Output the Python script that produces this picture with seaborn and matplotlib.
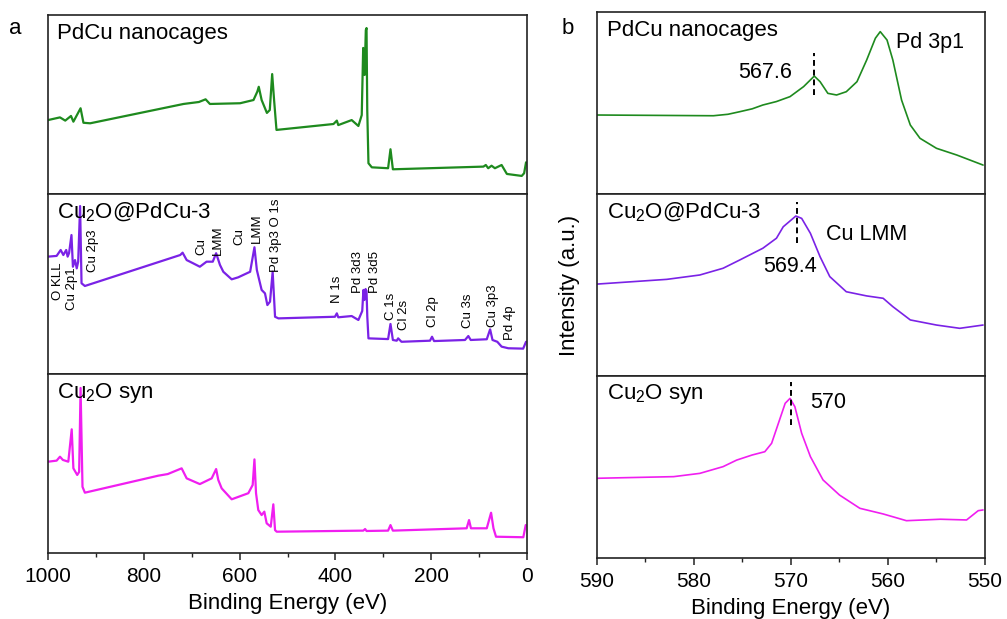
import matplotlib
matplotlib.use("Agg")
import matplotlib.pyplot as plt
import seaborn as sns
from matplotlib.ticker import MultipleLocator

# ---------------- data ----------------
# Panel a: survey spectra, binding energy (eV) and intensity (a.u., 0-100 per strip)
survey_pdcu_E = [1000, 975, 964, 952, 947, 932, 926, 912, 717, 685, 671, 662, 599, 571, 563, 560, 554,
                 543, 537, 532, 528, 523, 404, 397, 394, 366, 352, 345, 342, 339, 336.5, 335, 333.5,
                 331, 324, 290, 285, 280, 91, 86, 81, 74, 67, 53, 42, 11, 6, 2]
survey_pdcu_I = [41.3, 42.8, 41.0, 43.6, 40.4, 47.9, 39.8, 39.5, 50.3, 51.4, 52.9, 50.3, 50.7, 52.5, 57.2,
                 59.9, 52.5, 45.3, 46.9, 67.0, 52.5, 35.8, 39.1, 41.0, 38.5, 41.3, 38.0, 44.1, 81.6,
                 66.5, 91.6, 92.7, 46.9, 17.2, 14.9, 14.4, 25.0, 13.8, 15.3, 16.2, 14.4, 15.8, 14.4,
                 16.2, 11.2, 10.1, 11.6, 17.7]

survey_cu2o_pdcu_E = [1000, 982, 973.5, 968, 962, 959, 956, 951, 948, 943.6, 940, 937, 933, 930, 923,
                      724, 719, 710.5, 697, 683, 669, 656, 649, 641, 634, 616.5, 603, 578, 569, 564,
                      559, 554, 547, 542, 536.5, 531, 526, 519, 401, 397, 394, 366, 352, 344, 341.5,
                      339.5, 337, 335, 333.4, 331, 290, 285, 280, 272, 269, 262, 202.5, 198.3, 194,
                      129.4, 122.5, 117.5, 84, 77, 72, 62, 53, 39, 8, 2]
survey_cu2o_pdcu_I = [65.2, 65.6, 68.9, 66.1, 68.9, 65.2, 67.2, 77.2, 59.6, 63.3, 58.7, 62.4, 93.3, 50.4,
                      48.9, 66.1, 67.4, 63.3, 61.5, 59.6, 62.4, 62.4, 67.1, 60.6, 56.8, 52.6, 53.7,
                      56.8, 70.4, 57.8, 52.2, 46.7, 44.8, 38.3, 40.2, 56.8, 31.8, 30.9, 31.8, 33.7,
                      31.5, 32.2, 30.0, 35.0, 46.7, 41.1, 47.2, 46.1, 31.8, 19.8, 19.4, 27.8, 18.9,
                      18.5, 19.8, 17.9, 18.5, 20.7, 18.3, 18.9, 21.1, 18.9, 19.3, 24.8, 18.9, 17.9,
                      15.2, 14.3, 14.1, 17.9]

survey_cu2o_E = [1000, 982, 975, 969, 957.6, 950.5, 947, 939, 935, 932, 928, 923, 769.7, 750, 721,
                 710.5, 683, 658.3, 649, 644.5, 637.4, 616.5, 581.8, 572.7, 569, 565.7, 561, 554,
                 548.4, 543.5, 535, 529.6, 526, 522.5, 341.7, 338, 335, 290, 285, 280, 126, 121, 117,
                 84, 75, 70, 64.7, 7.7, 2.7]
survey_cu2o_I = [51.0, 51.6, 53.8, 52.0, 51.0, 69.1, 47.3, 43.6, 45.3, 92.2, 37.0, 33.7, 43.2, 44.1,
                 47.3, 41.7, 38.5, 41.7, 46.9, 40.8, 36.1, 30.0, 33.4, 38.0, 52.3, 33.4, 24.0, 21.2,
                 23.1, 16.6, 14.7, 27.2, 12.8, 11.9, 12.5, 13.4, 12.3, 12.5, 15.6, 12.5, 13.8, 18.4,
                 13.8, 13.8, 22.5, 13.8, 9.1, 8.8, 15.6]

# Peak labels on the Cu2O@PdCu-3 survey: text, energy, bottom of label in intensity units
peak_labels = ["O KLL", "Cu 2p1", "Cu 2p3", "Cu", "LMM", "Cu", "LMM", "Pd 3p3 O 1s", "N 1s",
               "Pd 3d3", "Pd 3d5", "C 1s", "Cl 2s", "Cl 2p", "Cu 3s", "Cu 3p3", "Pd 4p"]
peak_label_E = [978.5, 950.5, 905.4, 679, 644.5, 600.6, 564.3, 524, 397.3, 352.2, 317.3, 283.5,
                256.0, 195.6, 122.5, 70.4, 35.5]
peak_label_I = [41.1, 35.6, 56.7, 66.1, 66.1, 71.7, 72.8, 56.7, 39.4, 45.0, 45.0, 30.0, 24.4, 26.1,
                25.6, 26.1, 18.9]

# Panel b: Cu LMM / Pd 3p1 region
lmm_pdcu_E = [590, 584, 578, 576.5, 575.3, 574, 572.9, 571.5, 570.1, 568.7, 567.6, 567, 566.2, 565.3,
              564.3, 563.2, 562.2, 561.3, 560.8, 560.1, 559.5, 558.6, 557.7, 556.7, 555, 552.9, 550.2]
lmm_pdcu_I = [43.4, 43.2, 43.0, 43.8, 45.2, 46.8, 48.9, 50.8, 53.5, 59.0, 64.8, 61.7, 55.3, 54.4,
              56.2, 61.7, 73.6, 85.6, 89.2, 84.6, 73.6, 51.6, 37.9, 30.6, 25.1, 21.4, 15.9]

lmm_cu2o_pdcu_E = [590, 582.8, 579.4, 577, 575.3, 572.9, 571.5, 570.8, 569.5, 568.9, 568, 567, 566,
                   564.3, 562.2, 560.5, 559.5, 557.7, 555, 552.6, 550.2]
lmm_cu2o_pdcu_I = [50.5, 53.1, 55.5, 59.2, 63.7, 70.2, 75.7, 82.0, 87.9, 86.6, 78.4, 65.5, 54.6,
                   46.3, 44.0, 42.7, 38.1, 30.8, 28.0, 26.2, 28.0]

lmm_cu2o_E = [590, 582.1, 579.4, 577, 575.6, 574, 572.7, 572, 571.3, 570.6, 570.1, 569.6, 568.9,
              568, 566.7, 565, 562.9, 560.5, 558.1, 554.6, 551.9, 550.7, 550.2]
lmm_cu2o_I = [43.8, 44.7, 46.5, 50.2, 53.8, 56.6, 58.4, 63.0, 74.0, 85.0, 87.7, 83.1, 68.5, 55.7,
              42.9, 34.6, 27.3, 24.2, 20.5, 21.3, 20.9, 26.0, 26.4]

sample_names = ["PdCu nanocages", "Cu$_2$O@PdCu-3", "Cu$_2$O syn"]
colors = ["#1e8a1e", "#7a22e6", "#f01ef0"]
peak_marks = [567.6, 569.4, 570]
peak_mark_text = ["567.6", "569.4", "570"]

# ---------------- style ----------------
sns.set_style("ticks")
plt.rcParams["font.family"] = ["Liberation Sans", "DejaVu Sans"]
plt.rcParams["mathtext.fontset"] = "custom"
plt.rcParams["mathtext.rm"] = "Liberation Sans"
plt.rcParams["mathtext.it"] = "Liberation Sans"
plt.rcParams["mathtext.default"] = "regular"
plt.rcParams["text.color"] = "black"
plt.rcParams["axes.labelcolor"] = "black"
plt.rcParams["xtick.color"] = "black"
plt.rcParams["ytick.color"] = "black"

fig = plt.figure(figsize=(10.07, 6.19), dpi=100)
W, H = 1007, 619

def box(x0, x1, y_top, y_bot):
    return [x0 / W, 1 - y_bot / H, (x1 - x0) / W, (y_bot - y_top) / H]

left_rows = [(15, 194), (194, 374), (374, 553)]
right_rows = [(12, 194), (194, 376), (376, 558)]
axL = [fig.add_axes(box(48, 527, t, b)) for t, b in left_rows]
axR = [fig.add_axes(box(597, 985, t, b)) for t, b in right_rows]

survey = [(survey_pdcu_E, survey_pdcu_I), (survey_cu2o_pdcu_E, survey_cu2o_pdcu_I),
          (survey_cu2o_E, survey_cu2o_I)]
lmm = [(lmm_pdcu_E, lmm_pdcu_I), (lmm_cu2o_pdcu_E, lmm_cu2o_pdcu_I), (lmm_cu2o_E, lmm_cu2o_I)]

spine_c = "#222222"
for ax in axL + axR:
    for s in ax.spines.values():
        s.set_color(spine_c)
        s.set_linewidth(1.2)
    ax.set_ylim(0, 100)
    ax.set_yticks([])
    ax.set_ylabel("")

for i in range(3):
    E, I = survey[i]
    sns.lineplot(x=E, y=I, ax=axL[i], color=colors[i], lw=1.6, estimator=None, sort=False)
    axL[i].set_xlim(1000, 0)
    axL[i].text(0.019, 0.895, sample_names[i], transform=axL[i].transAxes, fontsize=16,
                ha="left", va="center")
    E, I = lmm[i]
    sns.lineplot(x=E, y=I, ax=axR[i], color=colors[i], lw=1.2, estimator=None, sort=False)
    axR[i].set_xlim(590, 550)
    axR[i].text(0.026, 0.9, sample_names[i], transform=axR[i].transAxes, fontsize=16,
                ha="left", va="center")

for t, e, y in zip(peak_labels, peak_label_E, peak_label_I):
    axL[1].text(e, y, t, rotation=90, ha="center", va="bottom", fontsize=9.5)

# dashed peak markers and labels in b
dash_ranges = [(54.4, 77.5), (72.9, 95.8), (73.1, 96.9)]
for i in range(3):
    lo, hi = dash_ranges[i]
    axR[i].vlines(peak_marks[i], lo, hi, colors="black", linestyles=(0, (3, 2)), lw=1.4)
axR[0].text(572.7, 66.5, peak_mark_text[0], ha="center", va="center", fontsize=15.5)
axR[0].text(555.7, 83.5, "Pd 3p1", ha="center", va="center", fontsize=15.5)
axR[1].text(570.1, 59.9, peak_mark_text[1], ha="center", va="center", fontsize=15.5)
axR[1].text(562.2, 77.6, "Cu LMM", ha="center", va="center", fontsize=15.5)
axR[2].text(566.2, 85.2, peak_mark_text[2], ha="center", va="center", fontsize=15.5)

for axes, major, minor in [(axL, 200, 100), (axR, 10, 5)]:
    for j, ax in enumerate(axes):
        ax.xaxis.set_major_locator(MultipleLocator(major))
        ax.xaxis.set_minor_locator(MultipleLocator(minor))
        if j < 2:
            ax.tick_params(axis="x", which="both", bottom=False, labelbottom=False)
            ax.set_xlabel("")
        else:
            ax.tick_params(axis="x", which="major", direction="out", length=5, width=1.1,
                           color=spine_c, labelsize=15, pad=5)
            ax.tick_params(axis="x", which="minor", direction="out", length=3, width=1.0,
                           color=spine_c)
            ax.set_xlabel("Binding Energy (eV)", fontsize=16, labelpad=5)

fig.text(570 / W, 1 - 285 / H, "Intensity (a.u.)", rotation=90, ha="center", va="center",
         fontsize=16)
fig.text(15 / W, 1 - 28 / H, "a", ha="center", va="center", fontsize=16)
fig.text(568 / W, 1 - 28 / H, "b", ha="center", va="center", fontsize=16)

fig.savefig("out.png", dpi=100)
